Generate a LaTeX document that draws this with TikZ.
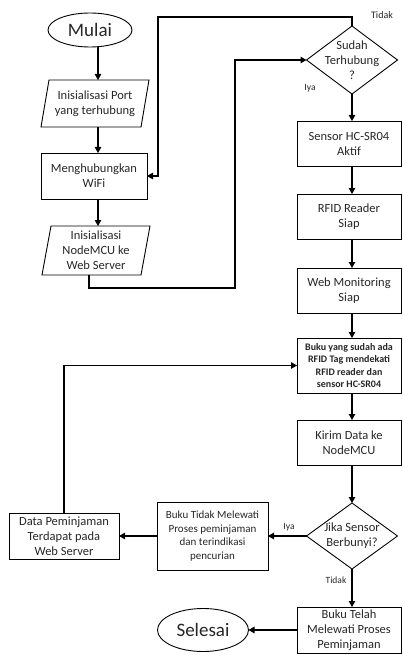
\documentclass[tikz,border=0pt]{standalone}
\usepackage{fontspec}
\setmainfont{Carlito}
\usetikzlibrary{arrows.meta,shapes.geometric}
\begin{document}
\begin{tikzpicture}[x=1pt,y=-1pt,
  every node/.style={inner sep=0pt, outer sep=0pt, align=center, text=black!85},
  line/.style={line width=1.1pt, draw=black},
  arr/.style={line, -{Triangle[length=6pt,width=6.5pt]}},
  txt/.style={font=\fontsize{12.5}{15}\selectfont},
  boxn/.style={rectangle, draw, line width=0.9pt, txt},
  para/.style={rectangle, txt},
  term/.style={ellipse, draw, line width=0.9pt, font=\fontsize{19}{22}\selectfont},
  dec/.style={diamond, draw, line width=0.9pt},
  lbl/.style={font=\fontsize{9.5}{11}\selectfont}
]
\useasboundingbox (0,0) rectangle (403,655);

% left column
\node[term, minimum width=84, minimum height=34] (mulai) at (90,30) {Mulai};
\node[para, minimum width=108, minimum height=47] (port) at (95,103.5) {Inisialisasi Port\\yang terhubung};
\draw[line width=0.9pt] ([xshift=8pt]port.north west) -- (port.north east) -- ([xshift=-8pt]port.south east) -- (port.south west) -- cycle;
\node[boxn, minimum width=106, minimum height=46] (wifi) at (94,176) {Menghubungkan\\WiFi};
\node[para, minimum width=108, minimum height=49] (nodemcu) at (96,250.5) {Inisialisasi\\NodeMCU ke\\Web Server};
\draw[line width=0.9pt] ([xshift=9pt]nodemcu.north west) -- (nodemcu.north east) -- ([xshift=-9pt]nodemcu.south east) -- (nodemcu.south west) -- cycle;

% right column
\node[dec, minimum width=91, minimum height=68,
  label={[txt, align=center]center:Sudah\\Terhubung\\?}] (sudah) at (352,60) {};
\node[boxn, minimum width=104, minimum height=45] (sensor) at (349,143.5) {Sensor HC-SR04\\Aktif};
\node[boxn, minimum width=104, minimum height=45] (rfid) at (349,216.5) {RFID Reader\\Siap};
\node[boxn, minimum width=104, minimum height=45] (web) at (349,290.5) {Web Monitoring\\Siap};
\node[boxn, minimum width=104, minimum height=55, font=\bfseries\fontsize{10}{12.5}\selectfont] (buku) at (349,365.5) {Buku yang sudah ada\\RFID Tag mendekati\\RFID reader dan\\sensor HC-SR04};
\node[boxn, minimum width=104, minimum height=45] (kirim) at (349,442.5) {Kirim Data ke\\NodeMCU};
\node[dec, minimum width=91, minimum height=66,
  label={[txt, align=center]center:Jika Sensor\\Berbunyi?}] (jika) at (352,536) {};
\node[boxn, minimum width=104, minimum height=46] (telah) at (349,630) {Buku Telah\\Melewati Proses\\Peminjaman};

% bottom row
\node[term, minimum width=91, minimum height=43] (selesai) at (203,630) {Selesai};
\node[boxn, minimum width=111, minimum height=68, font=\fontsize{11}{13.5}\selectfont] (tidakbox) at (212.5,536) {Buku Tidak Melewati\\Proses peminjaman\\dan terindikasi\\pencurian};
\node[boxn, minimum width=110, minimum height=46] (data) at (64,536) {Data Peminjaman\\Terdapat pada\\Web Server};

% helper coordinates
\coordinate (colx) at (98,0);
\coordinate (lx) at (89,0);
\coordinate (j1) at (235,288);
\coordinate (j2) at (158,17);

% connectors left column
\draw[arr] (mulai.south -| colx) -- (port.north -| colx);
\draw[arr] (port.south -| colx) -- (wifi.north -| colx);
\draw[arr] (wifi.south -| colx) -- (nodemcu.north -| colx);
\draw[arr] (nodemcu.south -| lx) |- (j1) |- (sudah.west);
\draw[arr] (sudah.north) |- (j2) |- (wifi.east);

% connectors right column
\draw[arr] (sudah.south) -- (sudah.south |- sensor.north);
\draw[arr] (sudah.south |- sensor.south) -- (sudah.south |- rfid.north);
\draw[arr] (sudah.south |- rfid.south) -- (sudah.south |- web.north);
\draw[arr] (sudah.south |- web.south) -- (sudah.south |- buku.north);
\draw[arr] (sudah.south |- buku.south) -- (sudah.south |- kirim.north);
\draw[arr] (sudah.south |- kirim.south) -- (jika.north);
\draw[arr] (jika.south) -- (jika.south |- telah.north);
\draw[arr] (jika.west) -- (tidakbox.east);
\draw[arr] (tidakbox.west) -- (data.east);
\draw[arr] (data.north) |- (buku.west);
\draw[arr] (telah.west) -- (selesai.east);

% labels
\node[lbl, font=\fontsize{10}{12}\selectfont] (ltidak1) at (382,15) {Tidak};
\node[lbl] (liya1) at (310,88) {Iya};
\node[lbl] (liya2) at (289,527) {Iya};
\node[lbl] (ltidak2) at (336,580) {Tidak};
\end{tikzpicture}
\end{document}
